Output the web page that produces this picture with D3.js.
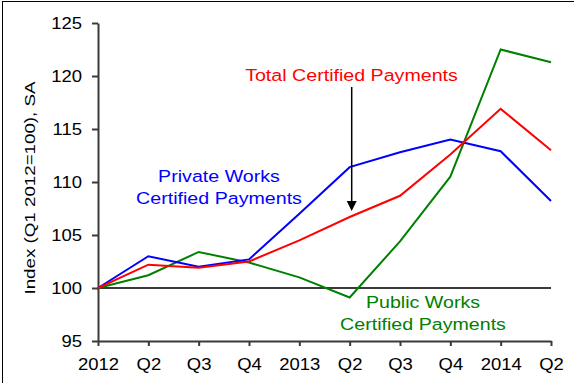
<!DOCTYPE html>
<html>
<head>
<meta charset="utf-8">
<script src="https://cdn.jsdelivr.net/npm/d3@7"></script>
<style>
  html, body { margin: 0; padding: 0; background: #fff; }
  svg { display: block; }
  text { font-family: "Liberation Sans", Arial, sans-serif; }
</style>
</head>
<body>
<div id="chart"></div>
<script>
// Quarterly index of certified payments (Q1 2012 = 100), seasonally adjusted
const periods = ["2012", "Q2", "Q3", "Q4", "2013", "Q2", "Q3", "Q4", "2014", "Q2"];
const privateWorks = [100, 103.0, 102.0, 102.7, 107.0, 111.4, 112.8, 114.0, 112.9, 108.2];
const totalPayments = [100, 102.2, 101.9, 102.5, 104.5, 106.7, 108.7, 112.6, 116.9, 113.0];
const publicWorks = [100, 101.2, 103.4, 102.4, 101.0, 99.1, 104.4, 110.5, 122.5, 121.3];
const yTicks = [95, 100, 105, 110, 115, 120, 125];

const W = 574, H = 383;
const plotLeft = 98, plotRight = 551, plotTop = 23, plotBottom = 341;
const axisColor = "#3a3a3a";
const stretch = 1.155;   // wide lettering

const svg = d3.select("#chart").append("svg")
  .attr("width", W).attr("height", H);

svg.append("rect").attr("width", W).attr("height", H).attr("fill", "#fff");

// outer frame
svg.append("rect")
  .attr("x", 2.5).attr("y", 1.5)
  .attr("width", W + 20).attr("height", H + 20)
  .attr("fill", "none").attr("stroke", "#000").attr("stroke-width", 1);

const x = d3.scalePoint().domain(d3.range(periods.length)).range([plotLeft, plotRight]);
const y = d3.scaleLinear().domain([95, 125]).range([plotBottom, plotTop]);

// y axis
const gy = svg.append("g")
  .attr("transform", `translate(${plotLeft},0)`)
  .call(d3.axisLeft(y).tickValues(yTicks).tickSize(6).tickSizeOuter(0).tickPadding(10));
gy.select(".domain").attr("stroke", axisColor).attr("stroke-width", 2);
gy.selectAll(".tick line").attr("stroke", axisColor).attr("stroke-width", 2);
gy.selectAll(".tick text")
  .attr("font-size", 16).attr("fill", "#000")
  .attr("font-family", "Liberation Sans, Arial, sans-serif")
  .attr("x", -16 / stretch)
  .attr("dy", "0.36em")
  .attr("transform", `scale(${stretch},1)`);

// x axis
const gx = svg.append("g")
  .attr("transform", `translate(0,${plotBottom})`)
  .call(d3.axisBottom(x).tickFormat(i => periods[i]).tickSize(5).tickSizeOuter(0).tickPadding(6));
gx.select(".domain").attr("stroke", axisColor).attr("stroke-width", 2);
gx.selectAll(".tick line").attr("stroke", axisColor).attr("stroke-width", 2);
gx.selectAll(".tick text")
  .attr("font-size", 16).attr("fill", "#000")
  .attr("font-family", "Liberation Sans, Arial, sans-serif")
  .attr("y", 0).attr("dy", 29)
  .attr("transform", `scale(${stretch},1)`);

// base line at 100
svg.append("line")
  .attr("x1", x(0)).attr("x2", x(periods.length - 1))
  .attr("y1", y(100)).attr("y2", y(100))
  .attr("stroke", axisColor).attr("stroke-width", 2);

// y axis title
svg.append("text")
  .attr("transform", `translate(35,188) rotate(-90) scale(1.21,1)`)
  .attr("text-anchor", "middle")
  .attr("font-size", 15.5)
  .attr("fill", "#000")
  .text("Index (Q1 2012=100), SA");

// series lines
const line = d3.line().x((d, i) => x(i)).y(d => y(d));
const series = [
  { values: publicWorks, color: "#008000" },
  { values: privateWorks, color: "#0000ff" },
  { values: totalPayments, color: "#ff0000" }
];
svg.append("g").selectAll("path")
  .data(series)
  .join("path")
  .attr("d", d => line(d.values))
  .attr("fill", "none")
  .attr("stroke", d => d.color)
  .attr("stroke-width", 2)
  .attr("stroke-linejoin", "miter");

// annotations
function label(lines, cx, baseline, color, gap) {
  lines.forEach((t, k) => {
    svg.append("text")
      .attr("transform", `translate(${cx},${baseline + k * gap}) scale(${stretch},1)`)
      .attr("text-anchor", "middle")
      .attr("font-size", 17)
      .attr("fill", color)
      .text(t);
  });
}
label(["Total Certified Payments"], 351.5, 80.5, "#ff0000", 0);
label(["Private Works", "Certified Payments"], 219, 182, "#0000ff", 21.8);
label(["Public Works", "Certified Payments"], 423, 308, "#008000", 21.5);

// arrow pointing to the total line
const ax = 351.7, ay1 = 87, ayTip = 211;
svg.append("line")
  .attr("x1", ax).attr("x2", ax).attr("y1", ay1).attr("y2", ayTip - 8)
  .attr("stroke", "#000").attr("stroke-width", 1.5);
svg.append("path")
  .attr("d", `M${ax - 5},${ayTip - 10} L${ax + 5},${ayTip - 10} L${ax},${ayTip} Z`)
  .attr("fill", "#000");
</script>
</body>
</html>
